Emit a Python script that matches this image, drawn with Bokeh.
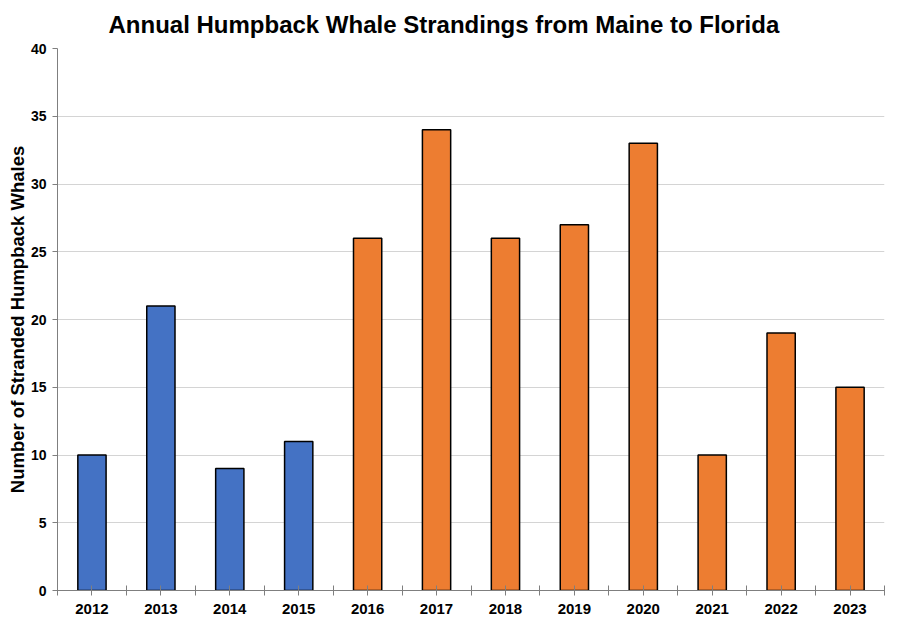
from bokeh.plotting import figure
from bokeh.models import ColumnDataSource, FixedTicker, Range1d
from bokeh.embed import file_html
from bokeh.resources import INLINE

years = ["2012", "2013", "2014", "2015", "2016", "2017", "2018", "2019", "2020", "2021", "2022", "2023"]
strandings = [10, 21, 9, 11, 26, 34, 26, 27, 33, 10, 19, 15]
colors = ["#4472C4"] * 4 + ["#ED7D31"] * 8
y_ticks = [0, 5, 10, 15, 20, 25, 30, 35, 40]
title_text = "Annual Humpback Whale Strandings from Maine to Florida"

xs = [i + 0.5 for i in range(len(years))]
src = ColumnDataSource(dict(x=xs, top=strandings, color=colors))

p = figure(width=890, height=621, output_backend="svg", toolbar_location=None,
           x_range=Range1d(0, len(years)), y_range=Range1d(0, 40),
           min_border_left=57, min_border_right=6, min_border_top=48, min_border_bottom=31)
p.title.text = title_text
p.title.align = "left"
p.title.offset = 51
p.title.vertical_align = "top"
p.title.text_font = "Liberation Sans"
p.title.text_font_size = "24px"
p.title.text_font_style = "bold"
p.title.text_color = "black"
p.title.standoff = 17

p.vbar(x="x", top="top", width=0.41, bottom=0, fill_color="color",
       line_color="black", line_width=1.5, source=src)

p.outline_line_color = None
p.xgrid.grid_line_color = None
p.ygrid.grid_line_color = "#D4D4D4"
p.ygrid.grid_line_width = 1

p.yaxis.ticker = FixedTicker(ticks=y_ticks)
p.xaxis.ticker = FixedTicker(ticks=xs, minor_ticks=list(range(len(years) + 1)))
p.xaxis.major_label_overrides = {x: y for x, y in zip(xs, years)}

for ax in (p.xaxis, p.yaxis):
    ax.axis_line_color = "#7F7F7F"
    ax.major_tick_line_color = "#7F7F7F"
    ax.minor_tick_line_color = "#7F7F7F"
    ax.major_label_text_font = "Liberation Sans"
    ax.major_label_text_font_style = "bold"
    ax.major_label_text_color = "black"

p.xaxis.major_label_text_font_size = "15px"
p.yaxis.major_label_text_font_size = "14px"
p.xaxis.major_label_standoff = 8
p.yaxis.major_label_standoff = 6

p.yaxis.minor_tick_line_color = None
p.yaxis.major_tick_in = 0
p.yaxis.major_tick_out = 5
p.xaxis.major_tick_in = 5
p.xaxis.major_tick_out = 5
p.xaxis.minor_tick_in = 5
p.xaxis.minor_tick_out = 5

p.yaxis.axis_label = "Number of Stranded Humpback Whales"
p.yaxis.axis_label_text_font = "Liberation Sans"
p.yaxis.axis_label_text_font_size = "18.5px"
p.yaxis.axis_label_text_font_style = "bold"
p.yaxis.axis_label_text_color = "black"
p.yaxis.axis_label_standoff = 0

open("out.html", "w").write(file_html(p, INLINE))
